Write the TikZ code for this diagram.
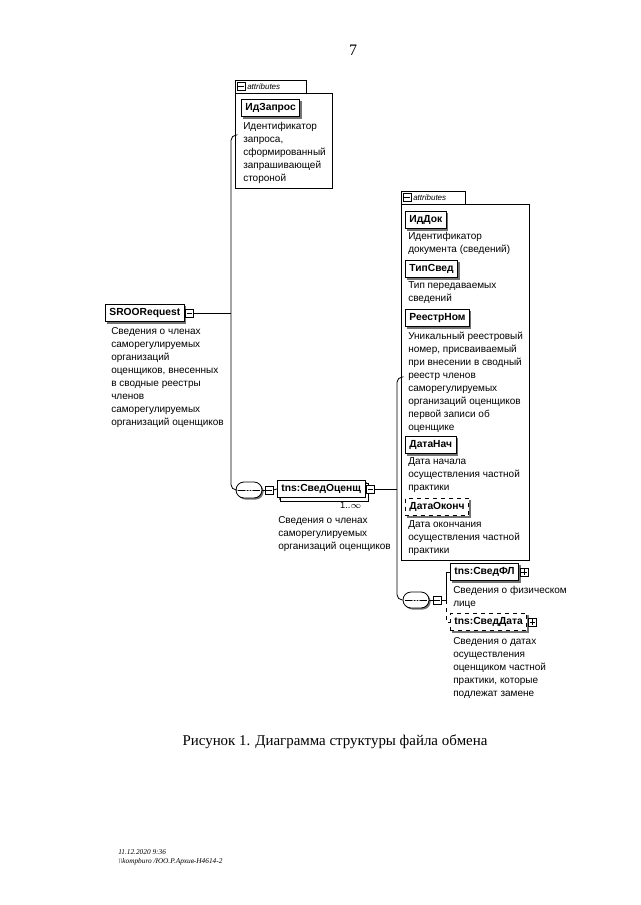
\documentclass[tikz,border=0pt]{standalone}
\usepackage{fontspec}
\setmainfont{Liberation Serif}
\newfontfamily\dsans{Liberation Sans}
\usetikzlibrary{shadows,shapes.misc,calc}
\tikzset{
  x=0.75pt, y=-0.75pt,
  conn/.style={draw, line width=0.6pt},
  desc/.style={anchor=north west, inner sep=0pt, align=left, font=\dsans\fontsize{7.5}{9.75}\selectfont},
  el/.style={draw, fill=white, line width=0.7pt, font=\dsans\bfseries\fontsize{7.7}{9}\selectfont,
     inner xsep=3pt, inner ysep=0pt, minimum height=13pt, anchor=west,
     drop shadow={shadow xshift=1.4pt, shadow yshift=-1.4pt, fill=black!55, opacity=1}},
  elopt/.style={el, dashed},
  minusicon/.style={draw, fill=white, line width=0.5pt, minimum size=6pt, inner sep=0pt,
     path picture={\draw[line width=0.5pt] ([xshift=1pt]path picture bounding box.west) -- ([xshift=-1pt]path picture bounding box.east);}},
  plusicon/.style={draw, fill=white, line width=0.5pt, minimum size=6pt, inner sep=0pt,
     path picture={\draw[line width=0.5pt] ([xshift=1pt]path picture bounding box.west) -- ([xshift=-1pt]path picture bounding box.east)
       ([yshift=-1pt]path picture bounding box.north) -- ([yshift=1pt]path picture bounding box.south);}},
  seqsym/.style={draw, fill=white, line width=0.6pt, rounded rectangle, minimum width=19.5pt, minimum height=12pt, inner sep=0pt,
     drop shadow={shadow xshift=1.2pt, shadow yshift=-1.2pt, fill=black!55, opacity=1},
     path picture={\draw[line width=0.5pt] ([xshift=1.5pt]path picture bounding box.west) -- ([xshift=-1.5pt]path picture bounding box.east);
       \foreach \dx in {-2.2pt,0pt,2.2pt} {\fill ([xshift=\dx]path picture bounding box.center) circle (0.75pt);}}},
  attrbox/.style={draw, line width=0.6pt, inner sep=0pt, anchor=north west},
  attrtab/.style={draw, line width=0.6pt, inner sep=0pt, anchor=north west, minimum height=9.75pt},
  attrtxt/.style={anchor=west, inner sep=0pt, font=\dsans\itshape\fontsize{6}{7}\selectfont},
  serif/.style={inner sep=0pt, font=\fontsize{11.2}{13}\selectfont},
}
\begin{document}
\begin{tikzpicture}
\useasboundingbox (0,0) rectangle (640,905);

\node[serif, font=\fontsize{12}{14}\selectfont] (pagenum) at (353,50) {7};

% ---------- attributes box 1 ----------
\node[attrtab, minimum width=53pt] (tab1) at (235,80) {};
\node[attrbox, minimum width=73pt, minimum height=71pt] (attr1) at (235,93) {};
\node[minusicon] (tab1m) at (241,86.5) {};
\node[attrtxt] (tab1t) at (247,86.5) {attributes};
\node[el] (idzap) at (241,108) {ИдЗапрос};
\node[desc] (idzapd) at (243,122) {Идентификатор\\запроса,\\сформированный\\запрашивающей\\стороной};

% ---------- root ----------
\node[el] (sroo) at (105,313) {SROORequest};
\node[minusicon] (sroom) at ($(sroo.east)+(5,0)$) {};
\node[desc] (srood) at (111,327) {Сведения о членах\\саморегулируемых\\организаций\\оценщиков, внесенных\\в сводные реестры\\членов\\саморегулируемых\\организаций оценщиков};

\coordinate (t1top) at (231,135);

% ---------- sequence 1 ----------
\node[seqsym] (seq1) at (249,490) {};
\node[minusicon] (seq1m) at (269,490) {};
\node[el, copy shadow={shadow xshift=2.5pt, shadow yshift=-2.5pt}] (ocen) at (277,489) {tns:СведОценщ};
\node[minusicon] (ocenm) at ($(ocen.east)+(5,0)$) {};
\node[anchor=north east, inner sep=0pt, font=\dsans\fontsize{7}{8}\selectfont] (mult) at ($(ocen.south east)+(-4,4)$) {1..$\infty$};
\node[desc] (ocend) at (278,516) {Сведения о членах\\саморегулируемых\\организаций оценщиков};

% ---------- attributes box 2 ----------
\node[attrtab, minimum width=48pt] (tab2) at (401,191) {};
\node[attrbox, minimum width=96pt, minimum height=267pt] (attr2) at (401,204) {};
\node[minusicon] (tab2m) at (407,197.5) {};
\node[attrtxt] (tab2t) at (413,197.5) {attributes};
\node[el] (iddok) at (405,220) {ИдДок};
\node[desc] (iddokd) at (408,232) {Идентификатор\\документа (сведений)};
\node[el] (tip) at (405,269) {ТипСвед};
\node[desc] (tipd) at (408,281) {Тип передаваемых\\сведений};
\node[el] (reestr) at (405,318) {РеестрНом};
\node[desc] (reestrd) at (408,332) {Уникальный реестровый\\номер, присваиваемый\\при внесении в сводный\\реестр членов\\саморегулируемых\\организаций оценщиков\\первой записи об\\оценщике};
\node[el] (nach) at (405,445) {ДатаНач};
\node[desc] (nachd) at (408,457) {Дата начала\\осуществления частной\\практики};
\node[elopt] (okon) at (405,507) {ДатаОконч};
\node[desc] (okond) at (408,520) {Дата окончания\\осуществления частной\\практики};

\coordinate (t2top) at (397,377);

% ---------- sequence 2 ----------
\node[seqsym] (seq2) at (416,600) {};
\node[minusicon] (seq2m) at (437,600) {};
\coordinate (br) at (446,600);
\node[el] (fl) at (450,572) {tns:СведФЛ};
\node[plusicon] (flp) at ($(fl.east)+(5,0)$) {};
\node[desc] (fld) at (453,586) {Сведения о физическом\\лице};
\node[elopt] (sd) at (450,622) {tns:СведДата};
\node[plusicon] (sdp) at ($(sd.east)+(5,0)$) {};
\node[desc] (sdd) at (453,637) {Сведения о датах\\осуществления\\оценщиком частной\\практики, которые\\подлежат замене};

% ---------- connectors ----------
\draw[conn, rounded corners=4pt] (attr1.north west |- t1top) -- (t1top) -- (t1top |- seq1) -- (seq1.west);
\draw[conn] (sroom.east) -- (sroom.east -| t1top);
\draw[conn] (seq1.east) -- (seq1m.west);
\draw[conn] (seq1m.east) -- (ocen.west);
\draw[conn] (ocenm.east) -- (ocenm.east -| t2top);
\draw[conn, rounded corners=4pt] (attr2.north west |- t2top) -- (t2top) -- (t2top |- seq2) -- (seq2.west);
\draw[conn] (seq2.east) -- (seq2m.west);
\draw[conn] (seq2m.east) -- (br);
\draw[conn] (br) |- (fl.west);
\draw[conn, dashed] (br) |- (sd.west);

% ---------- caption & footer ----------
\node[serif] (caption) at (335,742) {Рисунок 1. Диаграмма структуры файла обмена};
\node[anchor=west, inner sep=0pt, align=left, font=\itshape\fontsize{5.5}{7}\selectfont] (footer) at (118,857) {11.12.2020 9:36\\\textbackslash\textbackslash kompburo /ЮО.Р.Архив-Н4614-2};
\end{tikzpicture}
\end{document}
